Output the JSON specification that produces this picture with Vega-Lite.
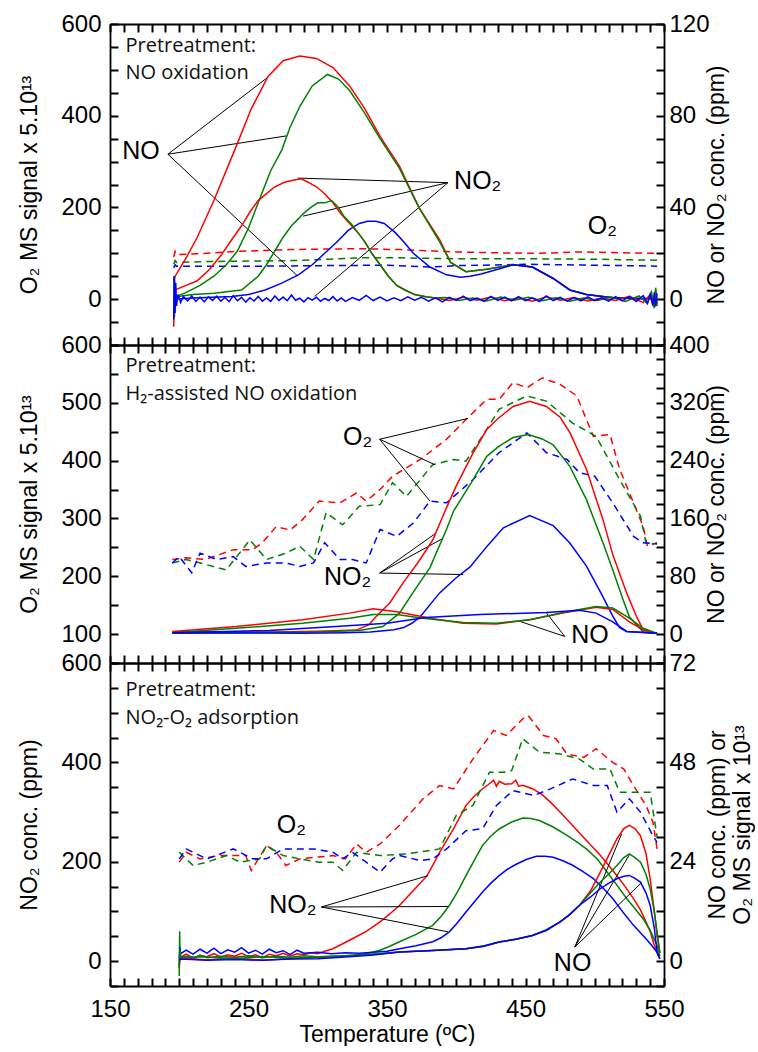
{
"$schema": "https://vega.github.io/schema/vega-lite/v6.json",
"padding": {"left": 18, "top": 12, "right": 0, "bottom": 0},
"spacing": 0,
"bounds": "flush",
"config": {
  "view": {"stroke": null},
  "axis": {"domainColor": "#000", "domainWidth": 1.8, "grid": false, "labelFont": "Liberation Sans", "labelFontSize": 24, "labelColor": "#000", "titleFont": "Liberation Sans", "titleFontSize": 23, "titleFontWeight": "normal", "titleColor": "#000", "labelFlush": false, "labelOverlap": false}
},
"datasets": {
"p1L": [
{"c":"r","t":196,"v":92},{"c":"r","t":197,"v":104},{"c":"r","t":198,"v":97},{"c":"r","t":215,"v":99},{"c":"r","t":240,"v":104},{"c":"r","t":260,"v":106},{"c":"r","t":280,"v":108},{"c":"r","t":300,"v":109},{"c":"r","t":330,"v":110},{"c":"r","t":360,"v":108},{"c":"r","t":400,"v":103},{"c":"r","t":430,"v":101},{"c":"r","t":460,"v":100},{"c":"r","t":490,"v":103},{"c":"r","t":520,"v":101},{"c":"r","t":545,"v":100},
{"c":"g","t":196,"v":76},{"c":"g","t":197,"v":84},{"c":"g","t":198,"v":80},{"c":"g","t":220,"v":82},{"c":"g","t":250,"v":83},{"c":"g","t":280,"v":84},{"c":"g","t":300,"v":86},{"c":"g","t":330,"v":90},{"c":"g","t":360,"v":90},{"c":"g","t":400,"v":88},{"c":"g","t":450,"v":88},{"c":"g","t":500,"v":87},{"c":"g","t":545,"v":85},
{"c":"b","t":196,"v":68},{"c":"b","t":197,"v":75},{"c":"b","t":198,"v":72},{"c":"b","t":230,"v":72},{"c":"b","t":260,"v":72},{"c":"b","t":300,"v":73},{"c":"b","t":350,"v":74},{"c":"b","t":380,"v":70},{"c":"b","t":400,"v":73},{"c":"b","t":450,"v":76},{"c":"b","t":500,"v":74},{"c":"b","t":545,"v":72}
],
"p1R": [
{"g":"NO","c":"r","t":196,"v":8},{"g":"NO","c":"r","t":197,"v":10},{"g":"NO","c":"r","t":205,"v":18},{"g":"NO","c":"r","t":213,"v":27},{"g":"NO","c":"r","t":225,"v":43},{"g":"NO","c":"r","t":240,"v":65},{"g":"NO","c":"r","t":252,"v":83},{"g":"NO","c":"r","t":264,"v":97},{"g":"NO","c":"r","t":275,"v":104},{"g":"NO","c":"r","t":287,"v":106},{"g":"NO","c":"r","t":299,"v":105},{"g":"NO","c":"r","t":311,"v":101},{"g":"NO","c":"r","t":323,"v":93},{"g":"NO","c":"r","t":334,"v":83},{"g":"NO","c":"r","t":345,"v":71},{"g":"NO","c":"r","t":359,"v":58},{"g":"NO","c":"r","t":373,"v":40},{"g":"NO","c":"r","t":388,"v":26},{"g":"NO","c":"r","t":396,"v":16},{"g":"NO","c":"r","t":407,"v":12},{"g":"NO","c":"r","t":422,"v":13},{"g":"NO","c":"r","t":441,"v":15},{"g":"NO","c":"r","t":455,"v":14},{"g":"NO","c":"r","t":470,"v":9},{"g":"NO","c":"r","t":482,"v":4},{"g":"NO","c":"r","t":494,"v":2},{"g":"NO","c":"r","t":513,"v":0.6},{"g":"NO","c":"r","t":530,"v":0.3},{"g":"NO","c":"r","t":545,"v":0.2},
{"g":"NO","c":"g","t":196,"v":-2},{"g":"NO","c":"g","t":197,"v":1},{"g":"NO","c":"g","t":204,"v":2.6},{"g":"NO","c":"g","t":215,"v":6},{"g":"NO","c":"g","t":225,"v":10},{"g":"NO","c":"g","t":234,"v":15},{"g":"NO","c":"g","t":242,"v":21},{"g":"NO","c":"g","t":250,"v":31},{"g":"NO","c":"g","t":257,"v":42},{"g":"NO","c":"g","t":266,"v":56},{"g":"NO","c":"g","t":274,"v":65},{"g":"NO","c":"g","t":280,"v":75},{"g":"NO","c":"g","t":287,"v":84},{"g":"NO","c":"g","t":296,"v":93},{"g":"NO","c":"g","t":307,"v":98},{"g":"NO","c":"g","t":315,"v":96},{"g":"NO","c":"g","t":323,"v":91},{"g":"NO","c":"g","t":334,"v":81},{"g":"NO","c":"g","t":345,"v":70},{"g":"NO","c":"g","t":359,"v":57},{"g":"NO","c":"g","t":373,"v":40},{"g":"NO","c":"g","t":388,"v":25},{"g":"NO","c":"g","t":396,"v":16},{"g":"NO","c":"g","t":407,"v":12},{"g":"NO","c":"g","t":422,"v":13},{"g":"NO","c":"g","t":441,"v":15},{"g":"NO","c":"g","t":455,"v":14},{"g":"NO","c":"g","t":470,"v":9},{"g":"NO","c":"g","t":482,"v":4},{"g":"NO","c":"g","t":494,"v":2},{"g":"NO","c":"g","t":513,"v":0.6},{"g":"NO","c":"g","t":530,"v":0.3},{"g":"NO","c":"g","t":545,"v":0.2},
{"g":"NO","c":"b","t":196,"v":0},{"g":"NO","c":"b","t":210,"v":0.5},{"g":"NO","c":"b","t":238,"v":1.2},{"g":"NO","c":"b","t":250,"v":2},{"g":"NO","c":"b","t":262,"v":4},{"g":"NO","c":"b","t":274,"v":7},{"g":"NO","c":"b","t":286,"v":10.6},{"g":"NO","c":"b","t":296,"v":15},{"g":"NO","c":"b","t":305,"v":20},{"g":"NO","c":"b","t":314,"v":25},{"g":"NO","c":"b","t":322,"v":30},{"g":"NO","c":"b","t":330,"v":33},{"g":"NO","c":"b","t":336,"v":34},{"g":"NO","c":"b","t":342,"v":34},{"g":"NO","c":"b","t":348,"v":33},{"g":"NO","c":"b","t":356,"v":29},{"g":"NO","c":"b","t":362,"v":25},{"g":"NO","c":"b","t":369,"v":20},{"g":"NO","c":"b","t":381,"v":14},{"g":"NO","c":"b","t":393,"v":10.6},{"g":"NO","c":"b","t":403,"v":9.6},{"g":"NO","c":"b","t":410,"v":10},{"g":"NO","c":"b","t":418,"v":11},{"g":"NO","c":"b","t":430,"v":13},{"g":"NO","c":"b","t":441,"v":15},{"g":"NO","c":"b","t":455,"v":14},{"g":"NO","c":"b","t":470,"v":9},{"g":"NO","c":"b","t":482,"v":4},{"g":"NO","c":"b","t":494,"v":2},{"g":"NO","c":"b","t":513,"v":0.6},{"g":"NO","c":"b","t":530,"v":0.3},{"g":"NO","c":"b","t":545,"v":0.2},
{"g":"NO2","c":"r","t":196,"v":-12},{"g":"NO2","c":"r","t":196.5,"v":9},{"g":"NO2","c":"r","t":197,"v":4},{"g":"NO2","c":"r","t":205,"v":6},{"g":"NO2","c":"r","t":213,"v":8},{"g":"NO2","c":"r","t":222,"v":13},{"g":"NO2","c":"r","t":230,"v":19},{"g":"NO2","c":"r","t":238,"v":26},{"g":"NO2","c":"r","t":245,"v":32},{"g":"NO2","c":"r","t":251,"v":38},{"g":"NO2","c":"r","t":257,"v":43},{"g":"NO2","c":"r","t":263,"v":46},{"g":"NO2","c":"r","t":269,"v":49},{"g":"NO2","c":"r","t":276,"v":51},{"g":"NO2","c":"r","t":283,"v":52},{"g":"NO2","c":"r","t":288,"v":52.5},{"g":"NO2","c":"r","t":293,"v":51},{"g":"NO2","c":"r","t":299,"v":49},{"g":"NO2","c":"r","t":305,"v":46},{"g":"NO2","c":"r","t":311,"v":42},{"g":"NO2","c":"r","t":317,"v":37},{"g":"NO2","c":"r","t":323,"v":33},{"g":"NO2","c":"r","t":329,"v":29},{"g":"NO2","c":"r","t":334,"v":25},{"g":"NO2","c":"r","t":339,"v":20},{"g":"NO2","c":"r","t":345,"v":15},{"g":"NO2","c":"r","t":351,"v":10},{"g":"NO2","c":"r","t":357,"v":6},{"g":"NO2","c":"r","t":363,"v":4},{"g":"NO2","c":"r","t":370,"v":2},{"g":"NO2","c":"r","t":378,"v":1},{"g":"NO2","c":"r","t":385,"v":0.5},{"g":"NO2","c":"r","t":395,"v":-0.6},{"g":"NO2","c":"r","t":405,"v":0.8},{"g":"NO2","c":"r","t":415,"v":-0.5},{"g":"NO2","c":"r","t":425,"v":0.9},{"g":"NO2","c":"r","t":435,"v":-0.7},{"g":"NO2","c":"r","t":445,"v":0.6},{"g":"NO2","c":"r","t":455,"v":-0.9},{"g":"NO2","c":"r","t":465,"v":1},{"g":"NO2","c":"r","t":475,"v":-0.5},{"g":"NO2","c":"r","t":485,"v":0.7},{"g":"NO2","c":"r","t":495,"v":-0.8},{"g":"NO2","c":"r","t":505,"v":0.5},{"g":"NO2","c":"r","t":515,"v":-0.6},{"g":"NO2","c":"r","t":525,"v":1.2},{"g":"NO2","c":"r","t":535,"v":-1.5},{"g":"NO2","c":"r","t":540,"v":2},{"g":"NO2","c":"r","t":542,"v":-3},{"g":"NO2","c":"r","t":544,"v":4},{"g":"NO2","c":"r","t":545,"v":-2},
{"g":"NO2","c":"g","t":196,"v":10},{"g":"NO2","c":"g","t":196.5,"v":-8},{"g":"NO2","c":"g","t":197,"v":1},{"g":"NO2","c":"g","t":210,"v":2},{"g":"NO2","c":"g","t":225,"v":2.6},{"g":"NO2","c":"g","t":245,"v":4},{"g":"NO2","c":"g","t":257,"v":10},{"g":"NO2","c":"g","t":263,"v":15},{"g":"NO2","c":"g","t":269,"v":21},{"g":"NO2","c":"g","t":275,"v":27},{"g":"NO2","c":"g","t":281,"v":32},{"g":"NO2","c":"g","t":286,"v":35},{"g":"NO2","c":"g","t":289,"v":37},{"g":"NO2","c":"g","t":295,"v":40},{"g":"NO2","c":"g","t":300,"v":42},{"g":"NO2","c":"g","t":305,"v":42},{"g":"NO2","c":"g","t":310,"v":43},{"g":"NO2","c":"g","t":315,"v":40},{"g":"NO2","c":"g","t":319,"v":36},{"g":"NO2","c":"g","t":324,"v":33},{"g":"NO2","c":"g","t":329,"v":29},{"g":"NO2","c":"g","t":334,"v":25},{"g":"NO2","c":"g","t":339,"v":20},{"g":"NO2","c":"g","t":345,"v":15},{"g":"NO2","c":"g","t":351,"v":10},{"g":"NO2","c":"g","t":357,"v":6},{"g":"NO2","c":"g","t":363,"v":4},{"g":"NO2","c":"g","t":370,"v":2},{"g":"NO2","c":"g","t":378,"v":1},{"g":"NO2","c":"g","t":385,"v":0.5},{"g":"NO2","c":"g","t":392,"v":0.7},{"g":"NO2","c":"g","t":402,"v":-0.6},{"g":"NO2","c":"g","t":412,"v":0.5},{"g":"NO2","c":"g","t":422,"v":-0.8},{"g":"NO2","c":"g","t":432,"v":0.9},{"g":"NO2","c":"g","t":442,"v":-0.5},{"g":"NO2","c":"g","t":452,"v":0.8},{"g":"NO2","c":"g","t":462,"v":-0.7},{"g":"NO2","c":"g","t":472,"v":0.6},{"g":"NO2","c":"g","t":482,"v":-0.9},{"g":"NO2","c":"g","t":492,"v":0.5},{"g":"NO2","c":"g","t":502,"v":-0.6},{"g":"NO2","c":"g","t":512,"v":0.9},{"g":"NO2","c":"g","t":522,"v":-1},{"g":"NO2","c":"g","t":532,"v":1.4},{"g":"NO2","c":"g","t":538,"v":-2},{"g":"NO2","c":"g","t":541,"v":3},{"g":"NO2","c":"g","t":543,"v":-4},{"g":"NO2","c":"g","t":544,"v":5},{"g":"NO2","c":"g","t":545,"v":-3},
{"g":"NO2","c":"b","t":196,"v":-9},{"g":"NO2","c":"b","t":196.5,"v":10},{"g":"NO2","c":"b","t":197,"v":-6},{"g":"NO2","c":"b","t":197.5,"v":7},{"g":"NO2","c":"b","t":198,"v":-3},{"g":"NO2","c":"b","t":199,"v":2},{"g":"NO2","c":"b","t":201,"v":-1.5},{"g":"NO2","c":"b","t":203,"v":1.2},{"g":"NO2","c":"b","t":206,"v":-0.8},{"g":"NO2","c":"b","t":209,"v":1.4},{"g":"NO2","c":"b","t":212,"v":-1},{"g":"NO2","c":"b","t":215,"v":0.9},{"g":"NO2","c":"b","t":218,"v":-1.2},{"g":"NO2","c":"b","t":221,"v":1},{"g":"NO2","c":"b","t":224,"v":-0.6},{"g":"NO2","c":"b","t":227,"v":1.3},{"g":"NO2","c":"b","t":230,"v":-0.9},{"g":"NO2","c":"b","t":233,"v":0.7},{"g":"NO2","c":"b","t":236,"v":-1.1},{"g":"NO2","c":"b","t":239,"v":1.5},{"g":"NO2","c":"b","t":242,"v":-0.7},{"g":"NO2","c":"b","t":245,"v":0.8},{"g":"NO2","c":"b","t":248,"v":-1.3},{"g":"NO2","c":"b","t":251,"v":0.6},{"g":"NO2","c":"b","t":254,"v":-0.8},{"g":"NO2","c":"b","t":257,"v":1.2},{"g":"NO2","c":"b","t":260,"v":-0.9},{"g":"NO2","c":"b","t":263,"v":0.5},{"g":"NO2","c":"b","t":266,"v":-1},{"g":"NO2","c":"b","t":269,"v":1.4},{"g":"NO2","c":"b","t":272,"v":-0.6},{"g":"NO2","c":"b","t":275,"v":0.9},{"g":"NO2","c":"b","t":278,"v":-0.7},{"g":"NO2","c":"b","t":281,"v":1.8},{"g":"NO2","c":"b","t":284,"v":-0.5},{"g":"NO2","c":"b","t":287,"v":0.4},{"g":"NO2","c":"b","t":290,"v":-1.2},{"g":"NO2","c":"b","t":293,"v":0.6},{"g":"NO2","c":"b","t":296,"v":-0.4},{"g":"NO2","c":"b","t":299,"v":0.8},{"g":"NO2","c":"b","t":302,"v":-0.9},{"g":"NO2","c":"b","t":305,"v":0.3},{"g":"NO2","c":"b","t":308,"v":-0.6},{"g":"NO2","c":"b","t":311,"v":1.1},{"g":"NO2","c":"b","t":314,"v":-0.8},{"g":"NO2","c":"b","t":317,"v":0.5},{"g":"NO2","c":"b","t":320,"v":-1},{"g":"NO2","c":"b","t":325,"v":0.7},{"g":"NO2","c":"b","t":330,"v":-0.5},{"g":"NO2","c":"b","t":335,"v":1.6},{"g":"NO2","c":"b","t":340,"v":-0.6},{"g":"NO2","c":"b","t":345,"v":0.9},{"g":"NO2","c":"b","t":350,"v":-0.8},{"g":"NO2","c":"b","t":355,"v":0.6},{"g":"NO2","c":"b","t":360,"v":-0.7},{"g":"NO2","c":"b","t":365,"v":1},{"g":"NO2","c":"b","t":370,"v":-0.5},{"g":"NO2","c":"b","t":375,"v":0.8},{"g":"NO2","c":"b","t":380,"v":-0.9},{"g":"NO2","c":"b","t":385,"v":0.6},{"g":"NO2","c":"b","t":390,"v":-1.2},{"g":"NO2","c":"b","t":395,"v":0.8},{"g":"NO2","c":"b","t":400,"v":-0.6},{"g":"NO2","c":"b","t":405,"v":1.3},{"g":"NO2","c":"b","t":410,"v":-0.7},{"g":"NO2","c":"b","t":415,"v":0.5},{"g":"NO2","c":"b","t":420,"v":-1},{"g":"NO2","c":"b","t":425,"v":1.2},{"g":"NO2","c":"b","t":430,"v":-0.6},{"g":"NO2","c":"b","t":435,"v":0.9},{"g":"NO2","c":"b","t":440,"v":-0.8},{"g":"NO2","c":"b","t":445,"v":1.1},{"g":"NO2","c":"b","t":450,"v":-0.7},{"g":"NO2","c":"b","t":455,"v":0.6},{"g":"NO2","c":"b","t":460,"v":-1.1},{"g":"NO2","c":"b","t":465,"v":1.4},{"g":"NO2","c":"b","t":470,"v":-0.6},{"g":"NO2","c":"b","t":475,"v":0.8},{"g":"NO2","c":"b","t":480,"v":-0.9},{"g":"NO2","c":"b","t":485,"v":0.7},{"g":"NO2","c":"b","t":490,"v":-0.8},{"g":"NO2","c":"b","t":495,"v":1},{"g":"NO2","c":"b","t":500,"v":-0.7},{"g":"NO2","c":"b","t":505,"v":0.6},{"g":"NO2","c":"b","t":510,"v":-0.9},{"g":"NO2","c":"b","t":515,"v":1.1},{"g":"NO2","c":"b","t":520,"v":-0.8},{"g":"NO2","c":"b","t":525,"v":1.2},{"g":"NO2","c":"b","t":530,"v":-1},{"g":"NO2","c":"b","t":535,"v":1.5},{"g":"NO2","c":"b","t":538,"v":-1.8},{"g":"NO2","c":"b","t":540,"v":2.2},{"g":"NO2","c":"b","t":542,"v":-2.6},{"g":"NO2","c":"b","t":543,"v":3},{"g":"NO2","c":"b","t":544,"v":-3.2},{"g":"NO2","c":"b","t":545,"v":2.5}
],
"p2L": [
{"c":"r","t":195,"v":229},{"c":"r","t":205,"v":232},{"c":"r","t":219,"v":229},{"c":"r","t":239,"v":246},{"c":"r","t":253,"v":246},{"c":"r","t":260,"v":258},{"c":"r","t":270,"v":286},{"c":"r","t":280,"v":280},{"c":"r","t":289,"v":298},{"c":"r","t":301,"v":330},{"c":"r","t":316,"v":327},{"c":"r","t":328,"v":344},{"c":"r","t":335,"v":330},{"c":"r","t":345,"v":350},{"c":"r","t":354,"v":373},{"c":"r","t":374,"v":402},{"c":"r","t":393,"v":437},{"c":"r","t":407,"v":471},{"c":"r","t":422,"v":506},{"c":"r","t":431,"v":506},{"c":"r","t":441,"v":535},{"c":"r","t":451,"v":526},{"c":"r","t":462,"v":543},{"c":"r","t":475,"v":532},{"c":"r","t":487,"v":512},{"c":"r","t":499,"v":442},{"c":"r","t":511,"v":445},{"c":"r","t":518,"v":385},{"c":"r","t":528,"v":327},{"c":"r","t":535,"v":286},{"c":"r","t":538,"v":252},{"c":"r","t":545,"v":258},
{"c":"g","t":195,"v":223},{"c":"g","t":205,"v":229},{"c":"g","t":215,"v":223},{"c":"g","t":234,"v":211},{"c":"g","t":251,"v":263},{"c":"g","t":263,"v":229},{"c":"g","t":277,"v":240},{"c":"g","t":287,"v":252},{"c":"g","t":297,"v":229},{"c":"g","t":306,"v":310},{"c":"g","t":318,"v":289},{"c":"g","t":330,"v":321},{"c":"g","t":345,"v":324},{"c":"g","t":354,"v":362},{"c":"g","t":364,"v":338},{"c":"g","t":383,"v":393},{"c":"g","t":398,"v":402},{"c":"g","t":407,"v":399},{"c":"g","t":422,"v":454},{"c":"g","t":431,"v":489},{"c":"g","t":451,"v":512},{"c":"g","t":465,"v":503},{"c":"g","t":484,"v":465},{"c":"g","t":501,"v":442},{"c":"g","t":518,"v":367},{"c":"g","t":533,"v":304},{"c":"g","t":537,"v":258},{"c":"g","t":543,"v":256},
{"c":"b","t":195,"v":223},{"c":"b","t":200,"v":234},{"c":"b","t":209,"v":206},{"c":"b","t":215,"v":240},{"c":"b","t":227,"v":229},{"c":"b","t":239,"v":234},{"c":"b","t":248,"v":217},{"c":"b","t":263,"v":223},{"c":"b","t":277,"v":223},{"c":"b","t":287,"v":217},{"c":"b","t":297,"v":223},{"c":"b","t":305,"v":258},{"c":"b","t":316,"v":229},{"c":"b","t":325,"v":229},{"c":"b","t":335,"v":223},{"c":"b","t":345,"v":281},{"c":"b","t":357,"v":269},{"c":"b","t":369,"v":292},{"c":"b","t":381,"v":330},{"c":"b","t":393,"v":327},{"c":"b","t":412,"v":367},{"c":"b","t":431,"v":414},{"c":"b","t":451,"v":448},{"c":"b","t":465,"v":414},{"c":"b","t":480,"v":402},{"c":"b","t":489,"v":379},{"c":"b","t":500,"v":373},{"c":"b","t":513,"v":327},{"c":"b","t":528,"v":269},{"c":"b","t":535,"v":258},{"c":"b","t":545,"v":256}
],
"p2R": [
{"g":"NO2","c":"r","t":195,"v":3},{"g":"NO2","c":"r","t":230,"v":3},{"g":"NO2","c":"r","t":265,"v":3},{"g":"NO2","c":"r","t":300,"v":4},{"g":"NO2","c":"r","t":328,"v":5.5},{"g":"NO2","c":"r","t":337,"v":13},{"g":"NO2","c":"r","t":342,"v":24},{"g":"NO2","c":"r","t":352,"v":43},{"g":"NO2","c":"r","t":362,"v":72},{"g":"NO2","c":"r","t":372,"v":98},{"g":"NO2","c":"r","t":383,"v":130},{"g":"NO2","c":"r","t":393,"v":175},{"g":"NO2","c":"r","t":400,"v":205},{"g":"NO2","c":"r","t":412,"v":250},{"g":"NO2","c":"r","t":422,"v":283},{"g":"NO2","c":"r","t":430,"v":298},{"g":"NO2","c":"r","t":441,"v":315},{"g":"NO2","c":"r","t":453,"v":322},{"g":"NO2","c":"r","t":465,"v":315},{"g":"NO2","c":"r","t":475,"v":300},{"g":"NO2","c":"r","t":482,"v":279},{"g":"NO2","c":"r","t":494,"v":228},{"g":"NO2","c":"r","t":506,"v":158},{"g":"NO2","c":"r","t":513,"v":110},{"g":"NO2","c":"r","t":523,"v":57},{"g":"NO2","c":"r","t":530,"v":25},{"g":"NO2","c":"r","t":535,"v":6},{"g":"NO2","c":"r","t":545,"v":1},
{"g":"NO2","c":"g","t":195,"v":1},{"g":"NO2","c":"g","t":250,"v":2},{"g":"NO2","c":"g","t":300,"v":3},{"g":"NO2","c":"g","t":330,"v":5},{"g":"NO2","c":"g","t":347,"v":10.5},{"g":"NO2","c":"g","t":359,"v":29},{"g":"NO2","c":"g","t":369,"v":58},{"g":"NO2","c":"g","t":381,"v":92},{"g":"NO2","c":"g","t":393,"v":145},{"g":"NO2","c":"g","t":398,"v":170},{"g":"NO2","c":"g","t":412,"v":213},{"g":"NO2","c":"g","t":422,"v":246},{"g":"NO2","c":"g","t":431,"v":260},{"g":"NO2","c":"g","t":441,"v":272},{"g":"NO2","c":"g","t":452,"v":276},{"g":"NO2","c":"g","t":462,"v":270},{"g":"NO2","c":"g","t":470,"v":262},{"g":"NO2","c":"g","t":482,"v":232},{"g":"NO2","c":"g","t":494,"v":186},{"g":"NO2","c":"g","t":506,"v":126},{"g":"NO2","c":"g","t":513,"v":89},{"g":"NO2","c":"g","t":520,"v":50},{"g":"NO2","c":"g","t":525,"v":24},{"g":"NO2","c":"g","t":535,"v":3},{"g":"NO2","c":"g","t":545,"v":1},
{"g":"NO2","c":"b","t":195,"v":1.5},{"g":"NO2","c":"b","t":250,"v":1.5},{"g":"NO2","c":"b","t":289,"v":1},{"g":"NO2","c":"b","t":320,"v":2},{"g":"NO2","c":"b","t":338,"v":3},{"g":"NO2","c":"b","t":355,"v":6},{"g":"NO2","c":"b","t":362,"v":9},{"g":"NO2","c":"b","t":368,"v":15},{"g":"NO2","c":"b","t":374,"v":24},{"g":"NO2","c":"b","t":388,"v":57},{"g":"NO2","c":"b","t":400,"v":78},{"g":"NO2","c":"b","t":410,"v":93},{"g":"NO2","c":"b","t":422,"v":121},{"g":"NO2","c":"b","t":434,"v":147},{"g":"NO2","c":"b","t":453,"v":164},{"g":"NO2","c":"b","t":470,"v":150},{"g":"NO2","c":"b","t":482,"v":126},{"g":"NO2","c":"b","t":494,"v":94},{"g":"NO2","c":"b","t":505,"v":55},{"g":"NO2","c":"b","t":513,"v":25},{"g":"NO2","c":"b","t":518,"v":9},{"g":"NO2","c":"b","t":523,"v":3.6},{"g":"NO2","c":"b","t":545,"v":1},
{"g":"NO","c":"r","t":195,"v":3.6},{"g":"NO","c":"r","t":241,"v":10.5},{"g":"NO","c":"r","t":289,"v":20},{"g":"NO","c":"r","t":323,"v":29},{"g":"NO","c":"r","t":340,"v":35},{"g":"NO","c":"r","t":357,"v":31},{"g":"NO","c":"r","t":376,"v":24},{"g":"NO","c":"r","t":381,"v":22},{"g":"NO","c":"r","t":405,"v":15},{"g":"NO","c":"r","t":429,"v":14},{"g":"NO","c":"r","t":453,"v":20},{"g":"NO","c":"r","t":477,"v":29},{"g":"NO","c":"r","t":501,"v":37},{"g":"NO","c":"r","t":513,"v":34},{"g":"NO","c":"r","t":525,"v":17},{"g":"NO","c":"r","t":535,"v":6},{"g":"NO","c":"r","t":545,"v":1},
{"g":"NO","c":"g","t":195,"v":2},{"g":"NO","c":"g","t":241,"v":8},{"g":"NO","c":"g","t":289,"v":15},{"g":"NO","c":"g","t":323,"v":22},{"g":"NO","c":"g","t":340,"v":27},{"g":"NO","c":"g","t":357,"v":27},{"g":"NO","c":"g","t":376,"v":22},{"g":"NO","c":"g","t":405,"v":16},{"g":"NO","c":"g","t":429,"v":15},{"g":"NO","c":"g","t":453,"v":20},{"g":"NO","c":"g","t":477,"v":30},{"g":"NO","c":"g","t":501,"v":38},{"g":"NO","c":"g","t":513,"v":36},{"g":"NO","c":"g","t":525,"v":22},{"g":"NO","c":"g","t":535,"v":8},{"g":"NO","c":"g","t":545,"v":1},
{"g":"NO","c":"b","t":195,"v":2},{"g":"NO","c":"b","t":265,"v":5},{"g":"NO","c":"b","t":313,"v":10.5},{"g":"NO","c":"b","t":350,"v":15},{"g":"NO","c":"b","t":378,"v":23},{"g":"NO","c":"b","t":417,"v":27},{"g":"NO","c":"b","t":465,"v":30},{"g":"NO","c":"b","t":489,"v":33},{"g":"NO","c":"b","t":501,"v":29},{"g":"NO","c":"b","t":513,"v":17},{"g":"NO","c":"b","t":523,"v":3.6},{"g":"NO","c":"b","t":545,"v":1}
],
"p3L": [
{"c":"r","t":200,"v":-15},{"c":"r","t":200.5,"v":20},{"c":"r","t":201,"v":8},{"c":"r","t":205,"v":14},{"c":"r","t":210,"v":6},{"c":"r","t":215,"v":12},{"c":"r","t":220,"v":9},{"c":"r","t":225,"v":15},{"c":"r","t":230,"v":8},{"c":"r","t":235,"v":13},{"c":"r","t":240,"v":10},{"c":"r","t":245,"v":16},{"c":"r","t":250,"v":9},{"c":"r","t":255,"v":13},{"c":"r","t":260,"v":7},{"c":"r","t":265,"v":14},{"c":"r","t":270,"v":11},{"c":"r","t":275,"v":16},{"c":"r","t":280,"v":10},{"c":"r","t":285,"v":15},{"c":"r","t":290,"v":13},{"c":"r","t":295,"v":17},{"c":"r","t":300,"v":15},{"c":"r","t":305,"v":20},{"c":"r","t":311,"v":25},{"c":"r","t":318,"v":35},{"c":"r","t":325,"v":45},{"c":"r","t":335,"v":60},{"c":"r","t":345,"v":79},{"c":"r","t":352,"v":95},{"c":"r","t":359,"v":112},{"c":"r","t":370,"v":145},{"c":"r","t":379,"v":172},{"c":"r","t":388,"v":219},{"c":"r","t":398,"v":266},{"c":"r","t":407,"v":313},{"c":"r","t":413,"v":332},{"c":"r","t":419,"v":347},{"c":"r","t":423,"v":355},{"c":"r","t":427,"v":364},{"c":"r","t":429,"v":352},{"c":"r","t":431,"v":362},{"c":"r","t":435,"v":356},{"c":"r","t":440,"v":357},{"c":"r","t":443,"v":364},{"c":"r","t":445,"v":352},{"c":"r","t":448,"v":354},{"c":"r","t":455,"v":347},{"c":"r","t":462,"v":335},{"c":"r","t":468,"v":320},{"c":"r","t":476,"v":297},{"c":"r","t":484,"v":273},{"c":"r","t":494,"v":243},{"c":"r","t":504,"v":213},{"c":"r","t":510,"v":193},{"c":"r","t":516,"v":172},{"c":"r","t":522,"v":150},{"c":"r","t":528,"v":126},{"c":"r","t":533,"v":103},{"c":"r","t":537,"v":79},{"c":"r","t":540,"v":60},{"c":"r","t":543,"v":32},{"c":"r","t":546,"v":10},
{"c":"g","t":200,"v":-30},{"c":"g","t":200.3,"v":60},{"c":"g","t":200.6,"v":5},{"c":"g","t":205,"v":10},{"c":"g","t":210,"v":6},{"c":"g","t":215,"v":12},{"c":"g","t":220,"v":7},{"c":"g","t":230,"v":10},{"c":"g","t":240,"v":8},{"c":"g","t":250,"v":11},{"c":"g","t":260,"v":7},{"c":"g","t":270,"v":10},{"c":"g","t":280,"v":8},{"c":"g","t":290,"v":11},{"c":"g","t":300,"v":9},{"c":"g","t":310,"v":10},{"c":"g","t":320,"v":11},{"c":"g","t":330,"v":13},{"c":"g","t":338,"v":17},{"c":"g","t":345,"v":22},{"c":"g","t":352,"v":30},{"c":"g","t":359,"v":39},{"c":"g","t":371,"v":54},{"c":"g","t":383,"v":72},{"c":"g","t":389,"v":90},{"c":"g","t":395,"v":112},{"c":"g","t":401,"v":140},{"c":"g","t":407,"v":172},{"c":"g","t":413,"v":203},{"c":"g","t":419,"v":233},{"c":"g","t":425,"v":252},{"c":"g","t":431,"v":266},{"c":"g","t":440,"v":280},{"c":"g","t":448,"v":288},{"c":"g","t":454,"v":287},{"c":"g","t":460,"v":283},{"c":"g","t":470,"v":270},{"c":"g","t":480,"v":253},{"c":"g","t":487,"v":240},{"c":"g","t":494,"v":226},{"c":"g","t":502,"v":205},{"c":"g","t":509,"v":179},{"c":"g","t":516,"v":153},{"c":"g","t":523,"v":126},{"c":"g","t":529,"v":106},{"c":"g","t":535,"v":85},{"c":"g","t":540,"v":62},{"c":"g","t":545,"v":32},{"c":"g","t":547,"v":10},
{"c":"b","t":200,"v":5},{"c":"b","t":200.5,"v":28},{"c":"b","t":201,"v":15},{"c":"b","t":205,"v":22},{"c":"b","t":210,"v":14},{"c":"b","t":215,"v":24},{"c":"b","t":220,"v":16},{"c":"b","t":225,"v":26},{"c":"b","t":230,"v":15},{"c":"b","t":235,"v":23},{"c":"b","t":240,"v":18},{"c":"b","t":245,"v":27},{"c":"b","t":250,"v":16},{"c":"b","t":255,"v":22},{"c":"b","t":260,"v":14},{"c":"b","t":265,"v":24},{"c":"b","t":270,"v":17},{"c":"b","t":275,"v":21},{"c":"b","t":280,"v":13},{"c":"b","t":285,"v":22},{"c":"b","t":290,"v":16},{"c":"b","t":300,"v":18},{"c":"b","t":310,"v":15},{"c":"b","t":320,"v":17},{"c":"b","t":330,"v":16},{"c":"b","t":340,"v":18},{"c":"b","t":350,"v":20},{"c":"b","t":359,"v":25},{"c":"b","t":371,"v":31},{"c":"b","t":383,"v":39},{"c":"b","t":389,"v":47},{"c":"b","t":395,"v":59},{"c":"b","t":401,"v":78},{"c":"b","t":407,"v":99},{"c":"b","t":413,"v":119},{"c":"b","t":419,"v":139},{"c":"b","t":425,"v":157},{"c":"b","t":431,"v":172},{"c":"b","t":437,"v":185},{"c":"b","t":444,"v":196},{"c":"b","t":451,"v":205},{"c":"b","t":458,"v":211},{"c":"b","t":464,"v":211},{"c":"b","t":470,"v":209},{"c":"b","t":477,"v":202},{"c":"b","t":484,"v":193},{"c":"b","t":491,"v":181},{"c":"b","t":499,"v":166},{"c":"b","t":506,"v":147},{"c":"b","t":513,"v":126},{"c":"b","t":520,"v":100},{"c":"b","t":528,"v":72},{"c":"b","t":533,"v":57},{"c":"b","t":537,"v":45},{"c":"b","t":541,"v":32},{"c":"b","t":545,"v":18},{"c":"b","t":547,"v":5}
],
"p3R": [
{"g":"NO","c":"r","t":200,"v":-1},{"g":"NO","c":"r","t":200.5,"v":2},{"g":"NO","c":"r","t":201,"v":0.8},{"g":"NO","c":"r","t":220,"v":0.3},{"g":"NO","c":"r","t":240,"v":0.8},{"g":"NO","c":"r","t":260,"v":0.2},{"g":"NO","c":"r","t":280,"v":0.6},{"g":"NO","c":"r","t":300,"v":0.9},{"g":"NO","c":"r","t":320,"v":1.2},{"g":"NO","c":"r","t":340,"v":1.6},{"g":"NO","c":"r","t":359,"v":2.2},{"g":"NO","c":"r","t":383,"v":2.6},{"g":"NO","c":"r","t":407,"v":3},{"g":"NO","c":"r","t":420,"v":3.6},{"g":"NO","c":"r","t":431,"v":4.6},{"g":"NO","c":"r","t":443,"v":5.3},{"g":"NO","c":"r","t":455,"v":6.2},{"g":"NO","c":"r","t":465,"v":7.5},{"g":"NO","c":"r","t":475,"v":9.5},{"g":"NO","c":"r","t":482,"v":11.2},{"g":"NO","c":"r","t":489,"v":13.5},{"g":"NO","c":"r","t":497,"v":17},{"g":"NO","c":"r","t":504,"v":21.5},{"g":"NO","c":"r","t":510,"v":25.5},{"g":"NO","c":"r","t":516,"v":29.5},{"g":"NO","c":"r","t":521,"v":32},{"g":"NO","c":"r","t":525,"v":32.8},{"g":"NO","c":"r","t":529,"v":32},{"g":"NO","c":"r","t":533,"v":30.3},{"g":"NO","c":"r","t":537,"v":26},{"g":"NO","c":"r","t":540,"v":19.9},{"g":"NO","c":"r","t":543,"v":12},{"g":"NO","c":"r","t":545,"v":6.2},{"g":"NO","c":"r","t":547,"v":2},
{"g":"NO","c":"g","t":200,"v":-1.5},{"g":"NO","c":"g","t":200.5,"v":3},{"g":"NO","c":"g","t":201,"v":1},{"g":"NO","c":"g","t":220,"v":1},{"g":"NO","c":"g","t":240,"v":0.6},{"g":"NO","c":"g","t":260,"v":1.1},{"g":"NO","c":"g","t":280,"v":0.7},{"g":"NO","c":"g","t":300,"v":1},{"g":"NO","c":"g","t":320,"v":1.3},{"g":"NO","c":"g","t":340,"v":1.7},{"g":"NO","c":"g","t":359,"v":2.2},{"g":"NO","c":"g","t":383,"v":2.6},{"g":"NO","c":"g","t":407,"v":3},{"g":"NO","c":"g","t":420,"v":3.7},{"g":"NO","c":"g","t":431,"v":4.6},{"g":"NO","c":"g","t":443,"v":5.3},{"g":"NO","c":"g","t":455,"v":6.2},{"g":"NO","c":"g","t":465,"v":7.6},{"g":"NO","c":"g","t":475,"v":9.5},{"g":"NO","c":"g","t":482,"v":11.3},{"g":"NO","c":"g","t":489,"v":13.5},{"g":"NO","c":"g","t":497,"v":16.5},{"g":"NO","c":"g","t":504,"v":19.1},{"g":"NO","c":"g","t":510,"v":21},{"g":"NO","c":"g","t":516,"v":23.1},{"g":"NO","c":"g","t":521,"v":25},{"g":"NO","c":"g","t":525,"v":25.9},{"g":"NO","c":"g","t":529,"v":25},{"g":"NO","c":"g","t":533,"v":23.9},{"g":"NO","c":"g","t":537,"v":21},{"g":"NO","c":"g","t":540,"v":17.5},{"g":"NO","c":"g","t":543,"v":12},{"g":"NO","c":"g","t":545,"v":7},{"g":"NO","c":"g","t":547,"v":2},
{"g":"NO","c":"b","t":200,"v":0.2},{"g":"NO","c":"b","t":201,"v":0.5},{"g":"NO","c":"b","t":220,"v":0.2},{"g":"NO","c":"b","t":240,"v":0.4},{"g":"NO","c":"b","t":260,"v":0.2},{"g":"NO","c":"b","t":280,"v":0.5},{"g":"NO","c":"b","t":300,"v":0.6},{"g":"NO","c":"b","t":320,"v":1},{"g":"NO","c":"b","t":340,"v":1.5},{"g":"NO","c":"b","t":359,"v":2.2},{"g":"NO","c":"b","t":383,"v":2.6},{"g":"NO","c":"b","t":407,"v":3},{"g":"NO","c":"b","t":420,"v":3.6},{"g":"NO","c":"b","t":431,"v":4.6},{"g":"NO","c":"b","t":443,"v":5.3},{"g":"NO","c":"b","t":455,"v":6.2},{"g":"NO","c":"b","t":465,"v":7.4},{"g":"NO","c":"b","t":475,"v":9.5},{"g":"NO","c":"b","t":482,"v":11.3},{"g":"NO","c":"b","t":489,"v":13.5},{"g":"NO","c":"b","t":497,"v":15.5},{"g":"NO","c":"b","t":504,"v":17.5},{"g":"NO","c":"b","t":510,"v":18.8},{"g":"NO","c":"b","t":516,"v":19.9},{"g":"NO","c":"b","t":521,"v":20.5},{"g":"NO","c":"b","t":525,"v":20.7},{"g":"NO","c":"b","t":529,"v":20},{"g":"NO","c":"b","t":533,"v":19.1},{"g":"NO","c":"b","t":537,"v":16.5},{"g":"NO","c":"b","t":540,"v":13.5},{"g":"NO","c":"b","t":543,"v":8},{"g":"NO","c":"b","t":545,"v":2.2},{"g":"NO","c":"b","t":547,"v":0.5},
{"g":"O2","c":"r","t":200,"v":23.9},{"g":"O2","c":"r","t":205,"v":26.3},{"g":"O2","c":"r","t":215,"v":24.7},{"g":"O2","c":"r","t":229,"v":25.5},{"g":"O2","c":"r","t":248,"v":25.5},{"g":"O2","c":"r","t":252,"v":21.9},{"g":"O2","c":"r","t":263,"v":27.9},{"g":"O2","c":"r","t":270,"v":26.3},{"g":"O2","c":"r","t":277,"v":23.1},{"g":"O2","c":"r","t":287,"v":24.7},{"g":"O2","c":"r","t":311,"v":25.5},{"g":"O2","c":"r","t":320,"v":24.7},{"g":"O2","c":"r","t":328,"v":28.3},{"g":"O2","c":"r","t":335,"v":26.3},{"g":"O2","c":"r","t":345,"v":28.3},{"g":"O2","c":"r","t":359,"v":32.8},{"g":"O2","c":"r","t":376,"v":39.2},{"g":"O2","c":"r","t":388,"v":42.4},{"g":"O2","c":"r","t":398,"v":41.6},{"g":"O2","c":"r","t":412,"v":48.8},{"g":"O2","c":"r","t":427,"v":55.7},{"g":"O2","c":"r","t":436,"v":54.5},{"g":"O2","c":"r","t":448,"v":58.5},{"g":"O2","c":"r","t":452,"v":59.3},{"g":"O2","c":"r","t":463,"v":54.5},{"g":"O2","c":"r","t":472,"v":53.7},{"g":"O2","c":"r","t":480,"v":50},{"g":"O2","c":"r","t":492,"v":49.2},{"g":"O2","c":"r","t":501,"v":51.3},{"g":"O2","c":"r","t":513,"v":48},{"g":"O2","c":"r","t":521,"v":46.4},{"g":"O2","c":"r","t":528,"v":42.4},{"g":"O2","c":"r","t":537,"v":37.6},{"g":"O2","c":"r","t":542,"v":33.6},{"g":"O2","c":"r","t":545,"v":27.1},
{"g":"O2","c":"g","t":200,"v":26.3},{"g":"O2","c":"g","t":210,"v":23.1},{"g":"O2","c":"g","t":220,"v":23.9},{"g":"O2","c":"g","t":234,"v":25.5},{"g":"O2","c":"g","t":244,"v":23.9},{"g":"O2","c":"g","t":258,"v":24.7},{"g":"O2","c":"g","t":263,"v":27.9},{"g":"O2","c":"g","t":275,"v":25.5},{"g":"O2","c":"g","t":287,"v":24.7},{"g":"O2","c":"g","t":301,"v":23.9},{"g":"O2","c":"g","t":311,"v":23.9},{"g":"O2","c":"g","t":318,"v":21.9},{"g":"O2","c":"g","t":328,"v":26.3},{"g":"O2","c":"g","t":345,"v":25.5},{"g":"O2","c":"g","t":364,"v":25.9},{"g":"O2","c":"g","t":388,"v":27.1},{"g":"O2","c":"g","t":400,"v":35.2},{"g":"O2","c":"g","t":412,"v":37.6},{"g":"O2","c":"g","t":424,"v":45.6},{"g":"O2","c":"g","t":434,"v":45.6},{"g":"O2","c":"g","t":440,"v":46},{"g":"O2","c":"g","t":448,"v":53.7},{"g":"O2","c":"g","t":451,"v":52.9},{"g":"O2","c":"g","t":460,"v":50.5},{"g":"O2","c":"g","t":475,"v":50},{"g":"O2","c":"g","t":489,"v":48.8},{"g":"O2","c":"g","t":499,"v":46.4},{"g":"O2","c":"g","t":511,"v":46.4},{"g":"O2","c":"g","t":518,"v":40.8},{"g":"O2","c":"g","t":530,"v":40.8},{"g":"O2","c":"g","t":540,"v":40.8},{"g":"O2","c":"g","t":545,"v":30},
{"g":"O2","c":"b","t":200,"v":24.7},{"g":"O2","c":"b","t":205,"v":27.1},{"g":"O2","c":"b","t":220,"v":24.7},{"g":"O2","c":"b","t":239,"v":27.1},{"g":"O2","c":"b","t":253,"v":24.7},{"g":"O2","c":"b","t":263,"v":24.7},{"g":"O2","c":"b","t":275,"v":27.1},{"g":"O2","c":"b","t":297,"v":27.1},{"g":"O2","c":"b","t":311,"v":26.3},{"g":"O2","c":"b","t":318,"v":24.7},{"g":"O2","c":"b","t":325,"v":26.3},{"g":"O2","c":"b","t":345,"v":21.5},{"g":"O2","c":"b","t":354,"v":24.7},{"g":"O2","c":"b","t":359,"v":25.5},{"g":"O2","c":"b","t":374,"v":24.3},{"g":"O2","c":"b","t":383,"v":24.7},{"g":"O2","c":"b","t":393,"v":27.1},{"g":"O2","c":"b","t":407,"v":31.5},{"g":"O2","c":"b","t":419,"v":32},{"g":"O2","c":"b","t":429,"v":37.6},{"g":"O2","c":"b","t":441,"v":41.2},{"g":"O2","c":"b","t":456,"v":40},{"g":"O2","c":"b","t":468,"v":41.6},{"g":"O2","c":"b","t":484,"v":44},{"g":"O2","c":"b","t":499,"v":42.4},{"g":"O2","c":"b","t":509,"v":42.4},{"g":"O2","c":"b","t":516,"v":36},{"g":"O2","c":"b","t":525,"v":39.2},{"g":"O2","c":"b","t":533,"v":36},{"g":"O2","c":"b","t":542,"v":30.3},{"g":"O2","c":"b","t":545,"v":28.7}
],
"labels": [
{"p":1,"t":172.4,"v":322,"txt":"NO"},{"p":1,"t":415.5,"v":258,"txt":"NO₂"},{"p":1,"t":505.5,"v":160,"txt":"O₂"},
{"p":2,"t":328.8,"v":441,"txt":"O₂"},{"p":2,"t":321.6,"v":198,"txt":"NO₂"},{"p":2,"t":496.5,"v":99,"txt":"NO"},
{"p":3,"t":281,"v":273,"txt":"O₂"},{"p":3,"t":282,"v":112,"txt":"NO₂"},{"p":3,"t":484,"v":-3,"txt":"NO"}
],
"notes": [
{"p":1,"t":161.2,"v":539,"txt":"Pretreatment:"},{"p":1,"t":161.2,"v":480,"txt":"NO oxidation"},
{"p":2,"t":161.2,"v":553,"txt":"Pretreatment:"},{"p":2,"t":161.2,"v":505,"txt":"H₂-assisted NO oxidation"},
{"p":3,"t":161.2,"v":533,"txt":"Pretreatment:"},{"p":3,"t":161.2,"v":477,"txt":"NO₂-O₂ adsorption"}
],
"leaders": [
{"p":1,"t":191.8,"v":316,"t2":264,"v2":484},{"p":1,"t":191.8,"v":316,"t2":277.3,"v2":356},{"p":1,"t":191.8,"v":316,"t2":285.3,"v2":51},
{"p":1,"t":394,"v":254,"t2":285.7,"v2":264},{"p":1,"t":394,"v":254,"t2":289.3,"v2":181},{"p":1,"t":394,"v":254,"t2":297.8,"v2":6},
{"p":2,"t":344.7,"v":437,"t2":408.5,"v2":473},{"p":2,"t":344.7,"v":437,"t2":384.5,"v2":393},{"p":2,"t":344.7,"v":437,"t2":381,"v2":330},
{"p":2,"t":344.7,"v":205.6,"t2":385,"v2":274},{"p":2,"t":344.7,"v":205.6,"t2":390,"v2":265},{"p":2,"t":344.7,"v":205.6,"t2":405,"v2":203},
{"p":2,"t":478.4,"v":95.9,"t2":445.9,"v2":122},{"p":2,"t":478.4,"v":95.9,"t2":465,"v2":137},
{"p":3,"t":302.6,"v":109,"t2":379.6,"v2":172},{"p":3,"t":302.6,"v":109,"t2":394,"v2":110},{"p":3,"t":302.6,"v":109,"t2":394,"v2":59},
{"p":3,"t":485.6,"v":28.3,"t2":519.4,"v2":256},{"p":3,"t":485.6,"v":28.3,"t2":525.4,"v2":216},{"p":3,"t":485.6,"v":28.3,"t2":533.8,"v2":158}
]
},
"vconcat": [
{
 "width": 554, "height": 321,
 "resolve": {"scale": {"y": "independent"}, "axis": {"x": "independent"}},
 "layer": [
  {
   "encoding": {
    "x": {"field": "t", "type": "quantitative", "scale": {"domain": [150, 550], "nice": false, "zero": false},
      "axis": {"orient": "bottom", "ticks": true, "tickSize": -8, "tickWidth": 2, "tickColor": "#000", "values": [150,160,170,180,190,200,210,220,230,240,250,260,270,280,290,300,310,320,330,340,350,360,370,380,390,400,410,420,430,440,450,460,470,480,490,500,510,520,530,540,550], "labels": false, "title": null}},
    "y": {"field": "v", "type": "quantitative", "scale": {"domain": [-100, 600], "nice": false, "zero": false},
      "axis": {"orient": "left", "ticks": true, "tickSize": -8, "tickWidth": 2, "tickColor": "#000", "values": [-100,-50,0,50,100,150,200,250,300,350,400,450,500,550,600], "labelExpr": "datum.value >= 0 && datum.value % 200 === 0 ? datum.label : ''", "labelPadding": 17, "title": "O₂ MS signal x 5.10¹³", "titlePadding": 19}}
   },
   "layer": [
    {"data": {"name": "p1L"}, "mark": {"type": "line", "strokeDash": [7, 5], "strokeWidth": 1.5}, "encoding": {"color": {"field": "c", "type": "nominal", "scale": {"domain": ["r","g","b"], "range": ["#ff0000","#008000","#0000ff"]}, "legend": null}}},
    {"data": {"name": "leaders"}, "transform": [{"filter": "datum.p === 1"}], "mark": {"type": "rule", "color": "#000", "strokeWidth": 1}, "encoding": {"x2": {"field": "t2"}, "y2": {"field": "v2"}}},
    {"data": {"name": "labels"}, "transform": [{"filter": "datum.p === 1"}], "mark": {"type": "text", "font": "Liberation Sans", "fontSize": 25, "align": "center", "baseline": "middle", "color": "#000"}, "encoding": {"text": {"field": "txt"}}},
    {"data": {"name": "notes"}, "transform": [{"filter": "datum.p === 1"}], "mark": {"type": "text", "font": "Open Sans", "fontSize": 20, "align": "left", "baseline": "alphabetic", "color": "#111"}, "encoding": {"text": {"field": "txt"}}}
   ]
  },
  {
   "encoding": {
    "x": {"field": "t", "type": "quantitative", "scale": {"domain": [150, 550], "nice": false, "zero": false},
      "axis": {"orient": "top", "ticks": true, "tickSize": -8, "tickWidth": 2, "tickColor": "#000", "values": [150,160,170,180,190,200,210,220,230,240,250,260,270,280,290,300,310,320,330,340,350,360,370,380,390,400,410,420,430,440,450,460,470,480,490,500,510,520,530,540,550], "labels": false, "title": null}},
    "y": {"field": "v", "type": "quantitative", "scale": {"domain": [-20, 120], "nice": false, "zero": false},
      "axis": {"orient": "right", "ticks": true, "tickSize": -8, "tickWidth": 2, "tickColor": "#000", "values": [-20,-10,0,10,20,30,40,50,60,70,80,90,100,110,120], "labelExpr": "datum.value >= 0 && datum.value % 40 === 0 ? datum.label : ''", "labelPadding": 13, "title": "NO or NO₂ conc. (ppm)", "titleAngle": 270, "titleBaseline": "top", "titlePadding": -4}}
   },
   "layer": [
    {"data": {"name": "p1R"}, "mark": {"type": "line", "strokeWidth": 1.5}, "encoding": {"color": {"field": "c", "type": "nominal", "scale": {"domain": ["r","g","b"], "range": ["#ff0000","#008000","#0000ff"]}, "legend": null}, "detail": {"field": "g"}}}
   ]
  }
 ]
},
{
 "width": 554, "height": 318,
 "resolve": {"scale": {"y": "independent"}, "axis": {"x": "independent"}},
 "layer": [
  {
   "encoding": {
    "x": {"field": "t", "type": "quantitative", "scale": {"domain": [150, 550], "nice": false, "zero": false},
      "axis": {"orient": "bottom", "ticks": true, "tickSize": -8, "tickWidth": 2, "tickColor": "#000", "values": [150,160,170,180,190,200,210,220,230,240,250,260,270,280,290,300,310,320,330,340,350,360,370,380,390,400,410,420,430,440,450,460,470,480,490,500,510,520,530,540,550], "labels": false, "title": null}},
    "y": {"field": "v", "type": "quantitative", "scale": {"domain": [50, 600], "nice": false, "zero": false},
      "axis": {"orient": "left", "ticks": true, "tickSize": -8, "tickWidth": 2, "tickColor": "#000", "values": [50,100,150,200,250,300,350,400,450,500,550,600], "labelExpr": "datum.value >= 100 && datum.value % 100 === 0 ? datum.label : ''", "labelPadding": 17, "title": "O₂ MS signal x 5.10¹³", "titlePadding": 19}}
   },
   "layer": [
    {"data": {"name": "p2L"}, "mark": {"type": "line", "strokeDash": [7, 5], "strokeWidth": 1.5}, "encoding": {"color": {"field": "c", "type": "nominal", "scale": {"domain": ["r","g","b"], "range": ["#ff0000","#008000","#0000ff"]}, "legend": null}}},
    {"data": {"name": "leaders"}, "transform": [{"filter": "datum.p === 2"}], "mark": {"type": "rule", "color": "#000", "strokeWidth": 1}, "encoding": {"x2": {"field": "t2"}, "y2": {"field": "v2"}}},
    {"data": {"name": "labels"}, "transform": [{"filter": "datum.p === 2"}], "mark": {"type": "text", "font": "Liberation Sans", "fontSize": 25, "align": "center", "baseline": "middle", "color": "#000"}, "encoding": {"text": {"field": "txt"}}},
    {"data": {"name": "notes"}, "transform": [{"filter": "datum.p === 2"}], "mark": {"type": "text", "font": "Open Sans", "fontSize": 20, "align": "left", "baseline": "alphabetic", "color": "#111"}, "encoding": {"text": {"field": "txt"}}}
   ]
  },
  {
   "encoding": {
    "x": {"field": "t", "type": "quantitative", "scale": {"domain": [150, 550], "nice": false, "zero": false},
      "axis": {"orient": "top", "ticks": true, "tickSize": -8, "tickWidth": 2, "tickColor": "#000", "values": [150,160,170,180,190,200,210,220,230,240,250,260,270,280,290,300,310,320,330,340,350,360,370,380,390,400,410,420,430,440,450,460,470,480,490,500,510,520,530,540,550], "labels": false, "title": null}},
    "y": {"field": "v", "type": "quantitative", "scale": {"domain": [-40, 400], "nice": false, "zero": false},
      "axis": {"orient": "right", "ticks": true, "tickSize": -8, "tickWidth": 2, "tickColor": "#000", "values": [-40,-20,0,20,40,60,80,100,120,140,160,180,200,220,240,260,280,300,320,340,360,380,400], "labelExpr": "datum.value >= 0 && datum.value % 80 === 0 ? datum.label : ''", "labelPadding": 13, "title": "NO or NO₂ conc. (ppm)", "titleAngle": 270, "titleBaseline": "top", "titlePadding": -4}}
   },
   "layer": [
    {"data": {"name": "p2R"}, "mark": {"type": "line", "strokeWidth": 1.5}, "encoding": {"color": {"field": "c", "type": "nominal", "scale": {"domain": ["r","g","b"], "range": ["#ff0000","#008000","#0000ff"]}, "legend": null}, "detail": {"field": "g"}}}
   ]
  }
 ]
},
{
 "width": 554, "height": 323,
 "resolve": {"scale": {"y": "independent"}, "axis": {"x": "independent"}},
 "layer": [
  {
   "encoding": {
    "x": {"field": "t", "type": "quantitative", "scale": {"domain": [150, 550], "nice": false, "zero": false},
      "axis": {"orient": "bottom", "ticks": true, "tickSize": -8, "tickWidth": 2, "tickColor": "#000", "values": [150,160,170,180,190,200,210,220,230,240,250,260,270,280,290,300,310,320,330,340,350,360,370,380,390,400,410,420,430,440,450,460,470,480,490,500,510,520,530,540,550], "labelExpr": "(datum.value - 150) % 100 === 0 ? datum.label : ''", "labelPadding": 19, "title": "Temperature (ºC)", "titlePadding": 2}},
    "y": {"field": "v", "type": "quantitative", "scale": {"domain": [-50, 600], "nice": false, "zero": false},
      "axis": {"orient": "left", "ticks": true, "tickSize": -8, "tickWidth": 2, "tickColor": "#000", "values": [-50,0,50,100,150,200,250,300,350,400,450,500,550,600], "labelExpr": "datum.value >= 0 && datum.value % 200 === 0 ? datum.label : ''", "labelPadding": 17, "title": "NO₂ conc. (ppm)", "titlePadding": 19}}
   },
   "layer": [
    {"data": {"name": "p3L"}, "mark": {"type": "line", "strokeWidth": 1.5}, "encoding": {"color": {"field": "c", "type": "nominal", "scale": {"domain": ["r","g","b"], "range": ["#ff0000","#008000","#0000ff"]}, "legend": null}}},
    {"data": {"name": "leaders"}, "transform": [{"filter": "datum.p === 3"}], "mark": {"type": "rule", "color": "#000", "strokeWidth": 1}, "encoding": {"x2": {"field": "t2"}, "y2": {"field": "v2"}}},
    {"data": {"name": "labels"}, "transform": [{"filter": "datum.p === 3"}], "mark": {"type": "text", "font": "Liberation Sans", "fontSize": 25, "align": "center", "baseline": "middle", "color": "#000"}, "encoding": {"text": {"field": "txt"}}},
    {"data": {"name": "notes"}, "transform": [{"filter": "datum.p === 3"}], "mark": {"type": "text", "font": "Open Sans", "fontSize": 20, "align": "left", "baseline": "alphabetic", "color": "#111"}, "encoding": {"text": {"field": "txt"}}}
   ]
  },
  {
   "encoding": {
    "x": {"field": "t", "type": "quantitative", "scale": {"domain": [150, 550], "nice": false, "zero": false},
      "axis": {"orient": "top", "ticks": true, "tickSize": -8, "tickWidth": 2, "tickColor": "#000", "values": [150,160,170,180,190,200,210,220,230,240,250,260,270,280,290,300,310,320,330,340,350,360,370,380,390,400,410,420,430,440,450,460,470,480,490,500,510,520,530,540,550], "labels": false, "title": null}},
    "y": {"field": "v", "type": "quantitative", "scale": {"domain": [-6, 72], "nice": false, "zero": false},
      "axis": {"orient": "right", "ticks": true, "tickSize": -8, "tickWidth": 2, "tickColor": "#000", "values": [-6,0,6,12,18,24,30,36,42,48,54,60,66,72], "labelExpr": "datum.value >= 0 && datum.value % 24 === 0 ? datum.label : ''", "labelPadding": 13, "title": ["NO conc. (ppm) or", "O₂ MS signal x 10¹³"], "titleAngle": 270, "titleBaseline": "top", "titlePadding": -14}}
   },
   "layer": [
    {"data": {"name": "p3R"}, "transform": [{"filter": "datum.g === 'NO'"}], "mark": {"type": "line", "strokeWidth": 1.5}, "encoding": {"color": {"field": "c", "type": "nominal", "scale": {"domain": ["r","g","b"], "range": ["#ff0000","#008000","#0000ff"]}, "legend": null}}},
    {"data": {"name": "p3R"}, "transform": [{"filter": "datum.g === 'O2'"}], "mark": {"type": "line", "strokeDash": [7, 5], "strokeWidth": 1.5}, "encoding": {"color": {"field": "c", "type": "nominal", "scale": {"domain": ["r","g","b"], "range": ["#ff0000","#008000","#0000ff"]}, "legend": null}}}
   ]
  }
 ]
}
]
}
